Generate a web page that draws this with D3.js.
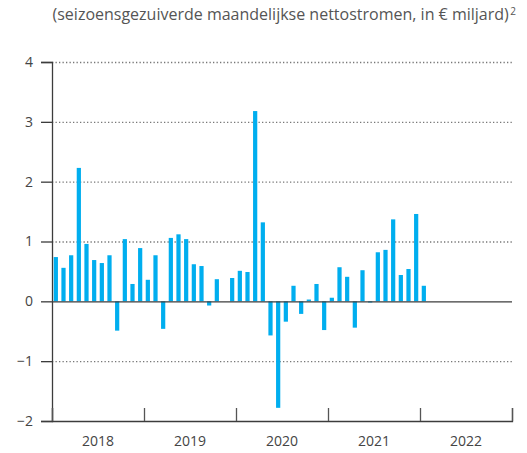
<!DOCTYPE html>
<html>
<head>
<meta charset="utf-8">
<script src="https://cdn.jsdelivr.net/npm/d3@7"></script>
<style>
  body { margin: 0; background: #fff; }
  svg { display: block; font-family: "Open Sans", "Noto Sans", sans-serif; }
</style>
</head>
<body>
<div id="chart"></div>
<script>
// monthly net flows, Jan 2018 .. Jan 2022 (null = no bar)
var years = [2018, 2019, 2020, 2021, 2022];
var yTicks = [-2, -1, 0, 1, 2, 3, 4];
var flows = [
  0.74, 0.56, 0.77, 2.23, 0.96, 0.69, 0.64, 0.77, -0.49, 1.04, 0.29, 0.89,
  0.36, 0.77, -0.46, 1.06, 1.12, 1.04, 0.62, 0.59, -0.07, 0.37, null, 0.39,
  0.51, 0.49, 3.18, 1.32, -0.57, -1.78, -0.34, 0.26, -0.21, 0.03, 0.29, -0.48,
  0.06, 0.57, 0.41, -0.44, 0.52, -0.02, 0.82, 0.86, 1.37, 0.44, 0.54, 1.46,
  0.26
];
var title = "(seizoensgezuiverde maandelijkse nettostromen, in € miljard)";

var width = 527, height = 453;
var margin = { top: 62, right: 15, bottom: 32, left: 52 };

var svg = d3
  .select("#chart")
  .append("svg")
  .attr("width", width)
  .attr("height", height);

var months = d3.range(years.length * 12);
var x = d3
  .scaleBand()
  .domain(months)
  .range([margin.left, width - margin.right])
  .paddingInner(0.45)
  .paddingOuter(0.225);

var xYear = d3
  .scaleLinear()
  .domain([years[0], years[years.length - 1] + 1])
  .range([margin.left, width - margin.right]);

var y = d3
  .scaleLinear()
  .domain([-2, 4])
  .range([height - margin.bottom, margin.top]);

// dotted grid
svg
  .append("g")
  .selectAll("line")
  .data(yTicks.filter((d) => d !== 0 && d !== -2))
  .enter()
  .append("line")
  .attr("x1", margin.left)
  .attr("x2", width - margin.right)
  .attr("y1", (d) => y(d) + 0.5)
  .attr("y2", (d) => y(d) + 0.5)
  .style("stroke", "#777")
  .style("stroke-width", 1.3)
  .style("stroke-dasharray", "1.3,2.2");

// bars
svg
  .append("g")
  .selectAll("rect")
  .data(flows.map((v, i) => ({ i: i, v: v })).filter((d) => d.v !== null))
  .enter()
  .append("rect")
  .attr("x", (d) => x(d.i))
  .attr("width", x.bandwidth())
  .attr("y", (d) => y(Math.max(0, d.v)))
  .attr("height", (d) => Math.abs(y(d.v) - y(0)))
  .style("fill", "#00aeef");

// zero line
svg
  .append("line")
  .attr("x1", margin.left)
  .attr("x2", width - margin.right)
  .attr("y1", y(0) + 0.5)
  .attr("y2", y(0) + 0.5)
  .style("stroke", "#3c3c3c")
  .style("stroke-width", 1.4);

// y axis
var yAxis = svg
  .append("g")
  .attr("transform", "translate(" + margin.left + ",0)")
  .call(d3.axisLeft(y).tickValues(yTicks).tickSize(11).tickPadding(8).tickFormat(d3.format("d")));
yAxis.select(".domain").style("stroke", "#3c3c3c").style("stroke-width", 1.3);
yAxis.selectAll(".tick line").style("stroke", "#3c3c3c").style("stroke-width", 1.3);
yAxis
  .selectAll(".tick text")
  .style("font-size", "14px")
  .style("fill", "#444")
  .style("font-family", "'Open Sans', sans-serif")
  .text((d) => (d < 0 ? "\u2212" + Math.abs(d) : d));

// x axis with year ticks pointing up
var xAxis = svg
  .append("g")
  .attr("transform", "translate(0," + y(-2) + ")")
  .call(
    d3
      .axisBottom(xYear)
      .tickValues(d3.range(years[0], years[years.length - 1] + 2))
      .tickSize(-13)
      .tickFormat("")
  );
xAxis.select(".domain").style("stroke", "#3c3c3c").style("stroke-width", 1.3);
xAxis.selectAll(".tick line").style("stroke", "#555").style("stroke-width", 1.3);

svg
  .append("g")
  .selectAll("text")
  .data(years)
  .enter()
  .append("text")
  .attr("x", (d) => xYear(d + 0.5))
  .attr("y", height - 7)
  .attr("text-anchor", "middle")
  .style("font-size", "14px")
  .style("fill", "#444")
  .text((d) => d);

// title
var t = svg
  .append("text")
  .attr("x", width - 11)
  .attr("y", 20)
  .attr("text-anchor", "end")
  .style("font-size", "16px")
  .style("fill", "#555");
t.append("tspan").text(title);
t.append("tspan").attr("dx", 1.5).attr("dy", -5).style("font-size", "10px").text("2");
</script>
</body>
</html>
